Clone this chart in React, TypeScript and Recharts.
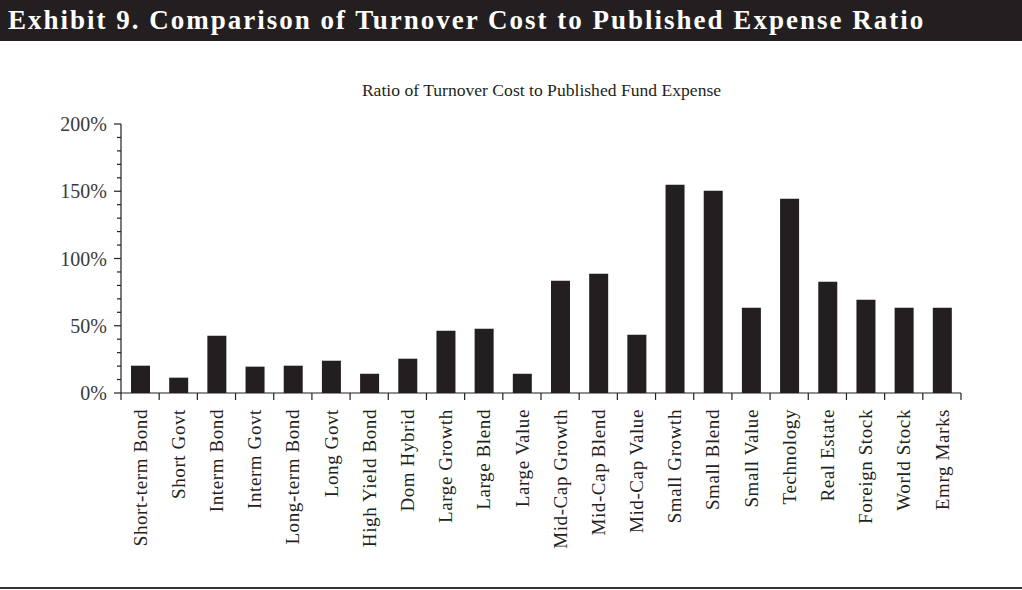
import React from "react";
import { BarChart, Bar, XAxis, YAxis } from "recharts";

const CATEGORIES = [
  "Short-term Bond",
  "Short Govt",
  "Interm Bond",
  "Interm Govt",
  "Long-term Bond",
  "Long Govt",
  "High Yield Bond",
  "Dom Hybrid",
  "Large Growth",
  "Large Blend",
  "Large Value",
  "Mid-Cap Growth",
  "Mid-Cap Blend",
  "Mid-Cap Value",
  "Small Growth",
  "Small Blend",
  "Small Value",
  "Technology",
  "Real Estate",
  "Foreign Stock",
  "World Stock",
  "Emrg Marks",
];

// ratio in percent
const RATIO = [
  20.3, 11.4, 42.6, 19.6, 20.3, 24.0, 14.3, 25.5, 46.3, 47.8, 14.3, 83.5, 88.7,
  43.3, 154.9, 150.4, 63.4, 144.5, 82.8, 69.4, 63.4, 63.4,
];

const Y_TICKS = [0, 10, 20, 30, 40, 50, 60, 70, 80, 90, 100, 110, 120, 130, 140, 150, 160, 170, 180, 190, 200];
const Y_MAJOR = [0, 50, 100, 150, 200];

const INK = "#231f20";
const FONT = "'Liberation Serif', 'DejaVu Serif', serif";

const data = CATEGORIES.map((name, i) => ({ name, value: RATIO[i] }));

const YTick = (props: any) => {
  const { x, y, payload } = props;
  const major = Y_MAJOR.includes(payload.value);
  return (
    <g>
      <line x1={x - (major ? 7 : 4)} x2={x} y1={y} y2={y} stroke={INK} strokeWidth={1.2} />
      {major && (
        <text x={x - 14} y={y} dy="0.35em" textAnchor="end" fontSize={20} fill="#3a3a3a" fontFamily={FONT}>
          {payload.value + "%"}
        </text>
      )}
    </g>
  );
};

const XTick = (props: any) => {
  const { x, y, payload, index, width } = props;
  const half = width ? width / CATEGORIES.length / 2 : 0;
  const ty = y + 16;
  return (
    <g>
      {half > 0 && <line x1={x - half} x2={x - half} y1={y} y2={y + 7} stroke={INK} strokeWidth={1.2} />}
      {half > 0 && index === CATEGORIES.length - 1 && (
        <line x1={x + half} x2={x + half} y1={y} y2={y + 7} stroke={INK} strokeWidth={1.2} />
      )}
      <text
        x={x}
        y={ty}
        dy="0.35em"
        transform={`rotate(-90, ${x}, ${ty})`}
        textAnchor="end"
        fontSize={19}
        letterSpacing={0.6}
        fill={INK}
        fontFamily={FONT}
      >
        {payload.value}
      </text>
    </g>
  );
};

export default function App() {
  return (
    <div
      style={{
        position: "absolute",
        left: 0,
        top: 0,
        width: 1022,
        height: 590,
        background: "#fff",
        fontFamily: FONT,
        overflow: "hidden",
      }}
    >
      <div
        style={{
          position: "absolute",
          left: 0,
          top: 0,
          width: 1022,
          height: 41,
          background: INK,
          color: "#fff",
          fontWeight: "bold",
          fontSize: 27,
          letterSpacing: 2,
          lineHeight: "41px",
          paddingLeft: 8,
          boxSizing: "border-box",
          whiteSpace: "nowrap",
        }}
      >
        Exhibit 9. Comparison of Turnover Cost to Published Expense Ratio
      </div>
      <div
        style={{
          position: "absolute",
          left: 122,
          top: 80,
          width: 839,
          textAlign: "center",
          fontSize: 17.6,
          color: INK,
        }}
      >
        Ratio of Turnover Cost to Published Fund Expense
      </div>
      <div style={{ position: "absolute", left: 0, top: 0 }}>
        <BarChart width={1022} height={590} data={data} margin={{ top: 124, right: 61, bottom: 0, left: 0 }}>
          <XAxis
            dataKey="name"
            interval={0}
            height={197}
            tickSize={0}
            tickMargin={0}
            tickLine={false}
            axisLine={{ stroke: INK, strokeWidth: 1.2 }}
            tick={<XTick />}
          />
          <YAxis
            domain={[0, 200]}
            ticks={Y_TICKS}
            interval={0}
            width={121}
            tickSize={0}
            tickMargin={0}
            tickLine={false}
            axisLine={{ stroke: INK, strokeWidth: 1.2 }}
            tick={<YTick />}
          />
          <Bar dataKey="value" fill={INK} barSize={19} isAnimationActive={false} />
        </BarChart>
      </div>
      <div
        style={{
          position: "absolute",
          left: 0,
          top: 587,
          width: 1022,
          height: 2,
          background: "#333",
        }}
      />
    </div>
  );
}
